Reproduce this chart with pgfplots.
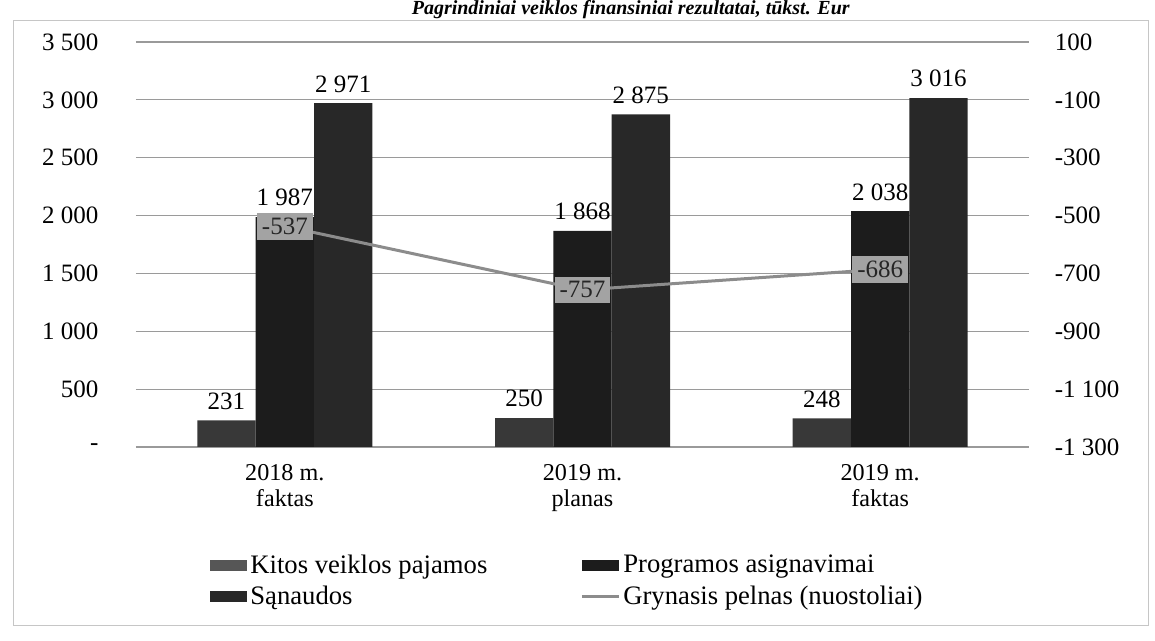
\documentclass[border=0pt]{standalone}
\usepackage{pgfplots}
\pgfplotsset{compat=1.18}
\usepackage{fontspec}
\setmainfont{Liberation Serif}
\definecolor{cKitos}{HTML}{383838}
\definecolor{cProg}{HTML}{1C1C1C}
\definecolor{cSan}{HTML}{282828}
\definecolor{cLine}{HTML}{8C8C8C}
\definecolor{cBox}{HTML}{A3A3A3}
\definecolor{cGrid}{HTML}{9A9A9A}
\begin{document}
\begin{tikzpicture}
\useasboundingbox (0,0) rectangle (693pt,384.6pt);
\draw[gray!45, line width=0.6pt] (7.8pt,9pt) rectangle (688.8pt,372pt);
\node[anchor=base east, font=\fontsize{12}{14}\selectfont\bfseries\itshape, inner sep=0pt] at (510pt,375.6pt) {Pagrindiniai veiklos finansiniai rezultatai, tūkst. Eur};
\begin{axis}[
  at={(81.6pt,116.4pt)}, anchor=south west,
  scale only axis, width=535.8pt, height=243pt,
  clip=false,
  ybar=0pt, bar width=35pt,
  xmin=-0.5, xmax=2.5, ymin=0, ymax=3500,
  axis x line=bottom, axis y line=left,
  axis line style={draw=none},
  major tick length=0pt,
  xtick={0,1,2},
  xticklabels={{2018 m.\\faktas},{2019 m.\\planas},{2019 m.\\faktas}},
  xticklabel style={align=center, font=\fontsize{14.5}{15.5}\selectfont, yshift=-7pt},
  ytick={0,500,...,3500},
  yticklabels={{-\hspace{8pt}},500,1 000,1 500,2 000,2 500,3 000,3 500},
  yticklabel style={font=\fontsize{15}{17}\selectfont, xshift=-19pt},
  ymajorgrids, grid style={cGrid, line width=0.7pt},
  point meta=explicit symbolic,
  nodes near coords,
  every node near coord/.append style={font=\fontsize{15}{17}\selectfont, text=black, yshift=3pt},
  legend columns=2,
  legend cell align=left,
  legend style={at={(axis description cs:0.0773,-0.249)}, anchor=north west,
    draw=none, fill=none, font=\fontsize{16}{19}\selectfont,
    /tikz/row sep=2pt},
]
\addplot[fill=cKitos, draw=none,
  legend image code/.code={\fill[cKitos!85!white] (0pt,-3.2pt) rectangle (22pt,3.2pt);}]
  coordinates {(0,231) [231] (1,250) [250] (2,248) [248]};
\addlegendentry{\makebox[196pt][l]{Kitos veiklos pajamos}}
\addplot[fill=cProg, draw=none,
  legend image code/.code={\fill[cProg] (0pt,-3.2pt) rectangle (22pt,3.2pt);}]
  coordinates {(0,1987) [1 987] (1,1868) [1 868] (2,2038) [2 038]};
\addlegendentry{Programos asignavimai}
\addplot[fill=cSan, draw=none,
  legend image code/.code={\fill[cSan] (0pt,-3.2pt) rectangle (22pt,3.2pt);}]
  coordinates {(0,2971) [2 971] (1,2875) [2 875] (2,3016) [3 016]};
\addlegendentry{\makebox[196pt][l]{Sąnaudos}}
\addlegendimage{legend image code/.code={\draw[cLine, line width=1.8pt] (0pt,0pt) -- (22pt,0pt);}}
\addlegendentry{Grynasis pelnas (nuostoliai)}
\end{axis}
\begin{axis}[
  at={(81.6pt,116.4pt)}, anchor=south west,
  scale only axis, width=535.8pt, height=243pt,
  clip=false,
  xmin=-0.5, xmax=2.5, ymin=-1300, ymax=100,
  axis x line=none, axis y line*=right,
  axis line style={draw=none},
  major tick length=0pt,
  ytick={-1300,-1100,...,100},
  yticklabels={-1 300,-1 100,-900,-700,-500,-300,-100,100},
  yticklabel style={font=\fontsize{15}{17}\selectfont, xshift=12pt},
]
\addplot[cLine, line width=1.8pt, mark=none,
  point meta=explicit symbolic, nodes near coords,
  every node near coord/.append style={anchor=center, fill=cBox, text=black!85,
    inner sep=3pt, font=\fontsize{15}{17}\selectfont}]
  coordinates {(0,-537) [-537] (1,-757) [-757] (2,-686) [-686]};
\end{axis}
\end{tikzpicture}
\end{document}
